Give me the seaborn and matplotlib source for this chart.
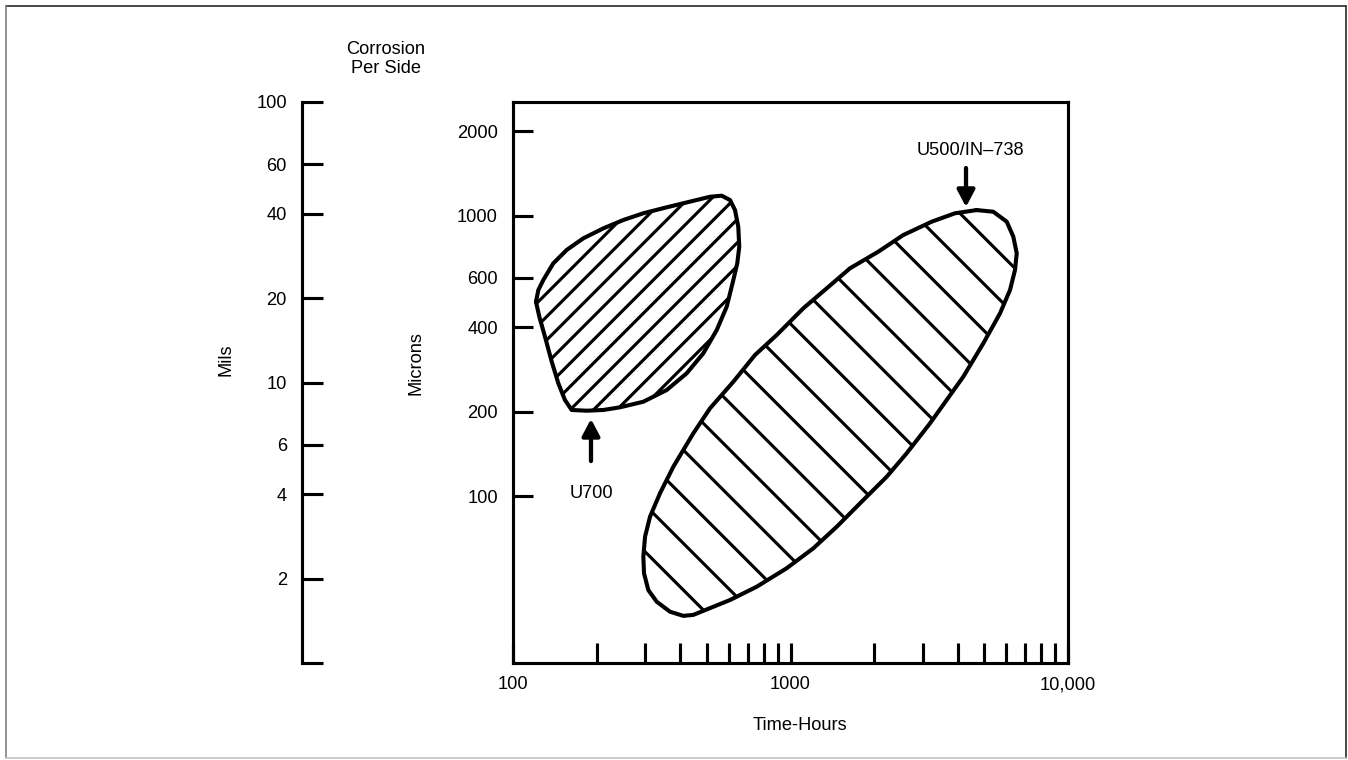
import numpy as np
import matplotlib
matplotlib.use("Agg")
import matplotlib.pyplot as plt
import seaborn as sns
from matplotlib.ticker import FixedLocator, FixedFormatter, NullLocator
from matplotlib.lines import Line2D

# ---------------- data ----------------
# U700 region outline (time in hours, corrosion per side in microns)
u700_hours = [121.0, 123.4, 128.6, 139.7, 156.1, 179.2, 211.6, 249.7, 294.8,
              358.0, 434.3, 512.9, 565.0, 605.4, 631.0, 648.3, 653.7, 643.0,
              622.3, 589.0, 542.2, 485.1, 422.6, 358.0, 294.8, 243.0, 211.6,
              184.4, 162.7, 153.9, 145.7, 137.9, 130.4, 124.4]
u700_microns = [492.9, 542.7, 589.2, 675.7, 753.8, 829.5, 900.3, 964.0, 1019,
                1070, 1121, 1167, 1177, 1136, 1046, 912.3, 774.3, 675.7,
                589.2, 473.2, 390.8, 322.8, 273.9, 238.8, 216.9, 207.2, 202.7,
                201.5, 202.7, 220.0, 252.2, 301.3, 369.9, 436.0]

# U500 / IN-738 region outline
u500_hours = [4688, 5380, 6014, 6353, 6535, 6442, 6180, 5689, 4953, 4195,
              3183, 2622, 2222, 1830, 1467, 1208, 969.0, 755.3, 605.4, 446.4,
              411.0, 368.0, 329.6, 307.4, 296.6, 294.9, 299.1, 311.7, 338.6,
              378.2, 446.4, 512.9, 622.3, 744.8, 891.9, 1112, 1351, 1638,
              2072, 2549, 3228, 3915]
u500_microns = [1046, 1032, 951.0, 840.8, 733.6, 639.6, 542.7, 448.2, 350.4,
                266.4, 181.7, 142.1, 117.2, 96.8, 77.7, 65.1, 55.3, 47.5, 42.6,
                37.7, 37.4, 38.7, 42.0, 46.2, 53.0, 60.8, 71.6, 84.4, 102.3,
                127.2, 167.3, 205.5, 255.6, 318.3, 375.1, 467.0, 550.3, 648.5,
                743.3, 852.2, 951.0, 1019]

x_ticks = [100, 200, 300, 400, 500, 600, 700, 800, 900,
           1000, 2000, 3000, 4000, 5000, 6000, 7000, 8000, 9000, 10000]
x_tick_labels = ["100", "", "", "", "", "", "", "", "",
                 "1000", "", "", "", "", "", "", "", "", "10,000"]
y_ticks = [100, 200, 400, 600, 1000, 2000]
y_tick_labels = ["100", "200", "400", "600", "1000", "2000"]
mils_ticks = [1, 2, 4, 6, 10, 20, 40, 60, 100]
mils_tick_labels = ["", "2", "4", "6", "10", "20", "40", "60", "100"]

# ---------------- style ----------------
W, H, DPI = 1348, 760, 280
sns.set_theme(style="ticks")
plt.rcParams["font.family"] = ["Liberation Sans", "DejaVu Sans"]
plt.rcParams["hatch.linewidth"] = 0.8
plt.rcParams["text.color"] = "black"
plt.rcParams["axes.labelcolor"] = "black"
FS = 4.7

fig = plt.figure(figsize=(W / DPI, H / DPI), dpi=DPI)
fig.patch.set_facecolor("white")

bottom = (H - 663) / H
height = 561 / H

# ---------------- main axes ----------------
ax = fig.add_axes([513 / W, bottom, 555 / W, height])
ax.set_xscale("log")
ax.set_yscale("log")
ax.set_xlim(100, 10000)
ax.set_ylim(25.4, 2540)

# hatched regions
ax.fill(u700_hours, u700_microns, facecolor="none", edgecolor="black",
        hatch="////", linewidth=0)
ax.fill(u500_hours, u500_microns, facecolor="none", edgecolor="black",
        hatch="\\\\", linewidth=0)

# outlines via seaborn
for hx, my in [(u700_hours, u700_microns), (u500_hours, u500_microns)]:
    sns.lineplot(x=np.r_[hx, hx[0]], y=np.r_[my, my[0]], sort=False,
                 estimator=None, color="black", linewidth=1.05, ax=ax)
for ln in ax.lines:
    ln.set_solid_joinstyle("round")
    ln.set_solid_capstyle("round")

ax.xaxis.set_major_locator(FixedLocator(x_ticks))
ax.xaxis.set_major_formatter(FixedFormatter(x_tick_labels))
ax.xaxis.set_minor_locator(NullLocator())
ax.yaxis.set_major_locator(FixedLocator(y_ticks))
ax.yaxis.set_major_formatter(FixedFormatter(y_tick_labels))
ax.yaxis.set_minor_locator(NullLocator())
ax.tick_params(axis="both", which="major", direction="in", length=5.1,
               width=0.8, pad=3.9, labelsize=FS, colors="black",
               top=False, right=False)
ax.tick_params(axis="x", pad=3.4)
for sp in ax.spines.values():
    sp.set_linewidth(0.8)
    sp.set_color("black")
ax.grid(False)

ax.set_xlabel("Time-Hours", fontsize=FS)
ax.xaxis.set_label_coords(800 / W, 1 - 717 / H, transform=fig.transFigure)
ax.set_ylabel("Microns", fontsize=FS)
ax.yaxis.set_label_coords(425 / W, 1 - 363 / H, transform=fig.transFigure)

# annotations
arrow_style = "-|>,head_length=3.6,head_width=1.9"
ax.annotate("", xy=(191, 188.3), xytext=(191, 133.3),
            arrowprops=dict(arrowstyle=arrow_style, mutation_scale=1,
                            color="black", lw=1.1, shrinkA=0, shrinkB=0))
ax.text(191, 102.5, "U700", ha="center", va="center", fontsize=FS)
ax.annotate("", xy=(4290, 1073), xytext=(4290, 1477),
            arrowprops=dict(arrowstyle=arrow_style, mutation_scale=1,
                            color="black", lw=1.1, shrinkA=0, shrinkB=0))
ax.text(4436, 1699, "U500/IN\u2013738", ha="center", va="center", fontsize=FS)

# ---------------- mils axis ----------------
ax2 = fig.add_axes([302 / W, bottom, 0.05, height])
ax2.patch.set_alpha(0)
ax2.set_yscale("log")
ax2.set_ylim(1, 100)
ax2.yaxis.set_major_locator(FixedLocator(mils_ticks))
ax2.yaxis.set_major_formatter(FixedFormatter(mils_tick_labels))
ax2.yaxis.set_minor_locator(NullLocator())
ax2.tick_params(axis="y", direction="in", length=5.3, width=0.8, pad=3.9,
                labelsize=FS, colors="black")
ax2.xaxis.set_visible(False)
for name in ["top", "right", "bottom"]:
    ax2.spines[name].set_visible(False)
ax2.spines["left"].set_linewidth(0.8)
ax2.spines["left"].set_color("black")
ax2.grid(False)
ax2.set_ylabel("Mils", fontsize=FS)
ax2.yaxis.set_label_coords(235 / W, 1 - 360 / H, transform=fig.transFigure)

fig.text(386 / W, 1 - 59 / H, "Corrosion\nPer Side", ha="center", va="center",
         fontsize=FS, linespacing=1.2)

# ---------------- image frame ----------------
x0, x1 = 5.5 / W, 1345.5 / W
y0, y1 = 1 - 758 / H, 1 - 5.5 / H
for xs, ys, c in [([x0, x1], [y1, y1], "#333333"),
                  ([x1, x1], [y0, y1], "#333333"),
                  ([x0, x0], [y0, y1], "#888888"),
                  ([x0, x1], [y0, y0], "#c8c8c8")]:
    fig.add_artist(Line2D(xs, ys, transform=fig.transFigure, color=c, lw=0.45))

fig.savefig("out.png", dpi=DPI)
